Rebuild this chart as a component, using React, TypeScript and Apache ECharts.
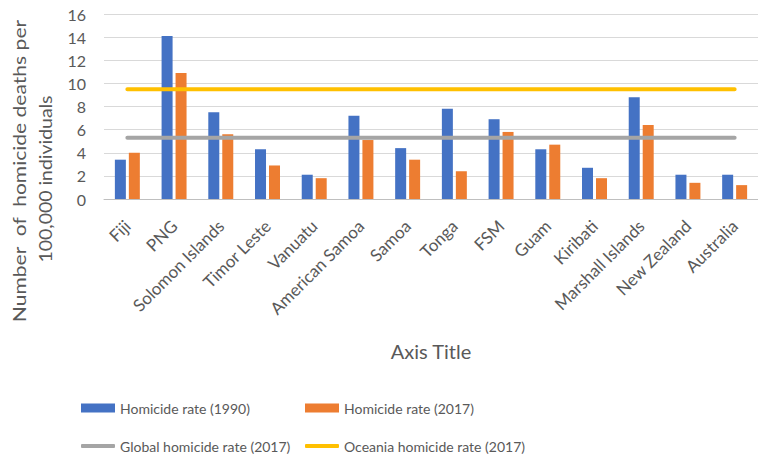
import React, { useEffect, useRef } from "react";
import * as echarts from "echarts";

// Pacific countries/territories shown on the category axis
const countries = [
  "Fiji",
  "PNG",
  "Solomon Islands",
  "Timor Leste",
  "Vanuatu",
  "American Samoa",
  "Samoa",
  "Tonga",
  "FSM",
  "Guam",
  "Kiribati",
  "Marshall Islands",
  "New Zealand",
  "Australia",
];

// Homicide deaths per 100,000 people
const rate1990 = [3.4, 14.1, 7.5, 4.3, 2.1, 7.2, 4.4, 7.8, 6.9, 4.3, 2.7, 8.8, 2.1, 2.1];
const rate2017 = [4.0, 10.9, 5.6, 2.9, 1.8, 5.1, 3.4, 2.4, 5.8, 4.7, 1.8, 6.4, 1.4, 1.2];

// Reference rates drawn as flat lines across all countries
const globalRate2017 = 5.3;
const oceaniaRate2017 = 9.5;

const yTicks = [0, 2, 4, 6, 8, 10, 12, 14, 16];

const yTitleLines = ["Number  of  homicide deaths per", "100,000 individuals"];

const FONT = "Lato, 'Open Sans', sans-serif";
const TEXT = "#595959";

export default function App() {
  const ref = useRef<HTMLDivElement>(null);

  useEffect(() => {
    if (!ref.current) return;
    const chart = echarts.init(ref.current, undefined, { renderer: "svg" });

    const legendBase = {
      orient: "horizontal" as const,
      padding: 0,
      itemGap: 0,
      itemWidth: 34,
      textStyle: { color: TEXT, fontSize: 14, fontFamily: FONT },
      selectedMode: false,
    };

    const yTitleStyle = {
      fill: TEXT,
      fontSize: 18,
      fontFamily: FONT,
      align: "center",
      verticalAlign: "middle",
    };

    chart.setOption({
      animation: false,
      backgroundColor: "#ffffff",
      textStyle: { fontFamily: FONT },
      grid: { left: 104, right: -5, top: 14, bottom: 260, containLabel: false },
      legend: [
        { ...legendBase, data: [{ name: "Homicide rate (1990)", icon: "rect" }], left: 81, top: 401, itemHeight: 9 },
        { ...legendBase, data: [{ name: "Homicide rate (2017)", icon: "rect" }], left: 305, top: 401, itemHeight: 9 },
        { ...legendBase, data: [{ name: "Global homicide rate (2017)", icon: "roundRect" }], left: 81, top: 439, itemHeight: 4 },
        { ...legendBase, data: [{ name: "Oceania homicide rate (2017)", icon: "roundRect" }], left: 305, top: 439, itemHeight: 4 },
      ],
      xAxis: {
        type: "category",
        data: countries,
        boundaryGap: true,
        name: "Axis Title",
        nameLocation: "middle",
        nameGap: 142,
        nameTextStyle: { color: TEXT, fontSize: 20, fontFamily: FONT },
        axisLine: { show: true, lineStyle: { color: "#bfbfbf", width: 1 } },
        axisTick: { show: false },
        axisLabel: {
          rotate: 45,
          interval: 0,
          margin: 24,
          color: TEXT,
          fontSize: 17,
          fontFamily: FONT,
        },
      },
      yAxis: {
        type: "value",
        min: yTicks[0],
        max: yTicks[yTicks.length - 1],
        interval: 2,
        axisLine: { show: false },
        axisTick: { show: false },
        axisLabel: { color: TEXT, fontSize: 16, fontFamily: FONT, margin: 18 },
        splitLine: { lineStyle: { color: "#d9d9d9", width: 1 } },
      },
      graphic: [
        {
          type: "text",
          x: 19,
          y: 171,
          rotation: Math.PI / 2,
          scaleX: 1.17,
          style: { ...yTitleStyle, text: yTitleLines[0] },
        },
        {
          type: "text",
          x: 45,
          y: 179,
          rotation: Math.PI / 2,
          scaleX: 1.08,
          style: { ...yTitleStyle, text: yTitleLines[1] },
        },
      ],
      series: [
        {
          name: "Homicide rate (1990)",
          type: "bar",
          data: rate1990,
          barWidth: 11,
          barGap: "27%",
          itemStyle: { color: "#4472c4" },
          z: 2,
        },
        {
          name: "Homicide rate (2017)",
          type: "bar",
          data: rate2017,
          barWidth: 11,
          barGap: "27%",
          itemStyle: { color: "#ed7d31" },
          z: 2,
        },
        {
          name: "Global homicide rate (2017)",
          type: "line",
          data: countries.map(() => globalRate2017),
          symbol: "none",
          color: "#a5a5a5",
          lineStyle: { color: "#a5a5a5", width: 4, cap: "round" },
          itemStyle: { color: "#a5a5a5" },
          z: 5,
        },
        {
          name: "Oceania homicide rate (2017)",
          type: "line",
          data: countries.map(() => oceaniaRate2017),
          symbol: "none",
          color: "#ffc000",
          lineStyle: { color: "#ffc000", width: 4, cap: "round" },
          itemStyle: { color: "#ffc000" },
          z: 5,
        },
      ],
    });

    return () => chart.dispose();
  }, []);

  return (
    <div
      ref={ref}
      style={{ position: "fixed", left: 0, top: 0, width: 758, height: 459, background: "#fff" }}
    />
  );
}
